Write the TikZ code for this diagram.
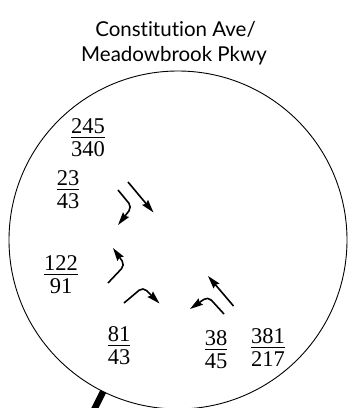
\documentclass[tikz,border=0pt]{standalone}
\usepackage{fontspec}
\newfontfamily\titlefont[Ligatures=NoCommon]{Lato}
\newfontfamily\numfont{Liberation Serif}
\usetikzlibrary{arrows.meta}
\newcommand\myfr[2]{{\setlength\arrayrulewidth{1pt}\renewcommand\arraystretch{0}%
\begin{tabular}{@{}c@{}}\rule[-3pt]{0pt}{3pt}#1\\\hline\rule{0pt}{19pt}#2\end{tabular}}}
\tikzset{
  frac/.style={inner sep=0pt, font=\numfont\fontsize{22.5}{27}\selectfont},
  ttl/.style={inner sep=0pt, anchor=base, font=\titlefont\fontsize{20.5}{25}\selectfont},
  mv/.style={line width=1.6pt, rounded corners=5pt, -{Stealth[length=13pt,width=7.5pt,inset=1.5pt]}}
}
\begin{document}
\begin{tikzpicture}[x=1pt,y=-1pt]
\useasboundingbox (0,0) rectangle (348,408);
\node[ttl] (t1) at (175.5,36) {Constitution Ave/};
\node[ttl] (t2) at (174,61) {Meadowbrook Pkwy};
\draw[line width=0.9pt] (178,240) circle[radius=169];
\draw[line width=6.5pt] (103.1,391.6) -- (90,418);
\node[frac] (f1) at (88,138) {\myfr{245}{340}};
\node[frac] (f2) at (68,190) {\myfr{23}{43}};
\node[frac] (f3) at (61,275) {\myfr{122}{91}};
\node[frac] (f4) at (119,346) {\myfr{81}{43}};
\node[frac] (f5) at (216,350) {\myfr{38}{45}};
\node[frac] (f6) at (268,348) {\myfr{381}{217}};
\draw[mv] (128,182) -- (153.5,212.5);
\draw[mv] (118,190) -- (132,207) -- (118,225);
\draw[mv] (108,283) -- (125,265) -- (113,248);
\draw[mv] (124,303) -- (143,287) -- (159.5,303.5);
\draw[mv] (233.5,306) -- (208,276);
\draw[mv] (224,314) -- (208,296.5) -- (190,309);
\end{tikzpicture}
\end{document}
